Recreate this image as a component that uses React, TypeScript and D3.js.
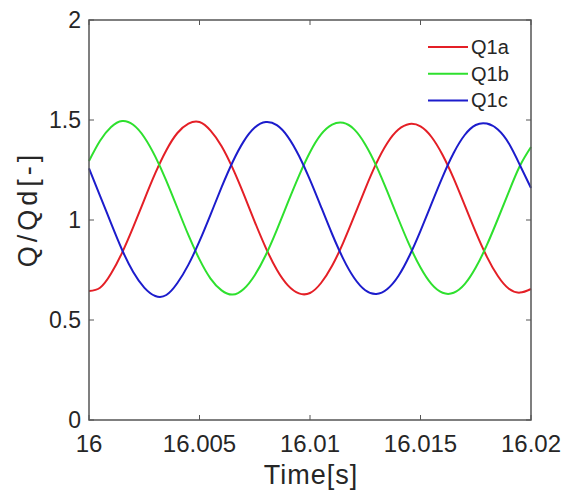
import { useEffect, useRef } from 'react';
import * as d3 from 'd3';

const TIME = d3.range(41).map(i => 16 + i * 0.0005);

const Q1A = [
  0.645, 0.661, 0.732, 0.837, 0.964, 1.101, 1.234, 1.349, 1.435, 1.482,
  1.490, 1.447, 1.369, 1.259, 1.129, 0.991, 0.861, 0.751, 0.673, 0.633,
  0.635, 0.685, 0.771, 0.886, 1.019, 1.156, 1.283, 1.385, 1.452, 1.480,
  1.468, 1.415, 1.325, 1.208, 1.074, 0.939, 0.817, 0.720, 0.656, 0.637,
  0.655,
];
const Q1B = [
  1.295, 1.396, 1.465, 1.495, 1.476, 1.414, 1.317, 1.196, 1.060, 0.924,
  0.803, 0.707, 0.648, 0.627, 0.655, 0.724, 0.825, 0.951, 1.088, 1.221,
  1.339, 1.428, 1.477, 1.486, 1.453, 1.378, 1.271, 1.142, 1.005, 0.874,
  0.762, 0.679, 0.636, 0.636, 0.679, 0.762, 0.874, 1.005, 1.142, 1.271,
  1.365,
];
const Q1C = [
  1.258, 1.121, 0.983, 0.850, 0.740, 0.662, 0.620, 0.625, 0.685, 0.777,
  0.894, 1.027, 1.164, 1.290, 1.393, 1.462, 1.490, 1.474, 1.416, 1.321,
  1.201, 1.066, 0.930, 0.807, 0.710, 0.649, 0.630, 0.655, 0.720, 0.821,
  0.946, 1.082, 1.216, 1.335, 1.425, 1.475, 1.482, 1.452, 1.382, 1.274,
  1.160,
];

const SERIES = [
  { name: 'Q1a', values: Q1A, color: '#e41f26' },
  { name: 'Q1b', values: Q1B, color: '#2ee02e' },
  { name: 'Q1c', values: Q1C, color: '#1c1ccc' },
];

const X_TICKS = [16, 16.005, 16.01, 16.015, 16.02];
const X_TICK_LABELS = ['16', '16.005', '16.01', '16.015', '16.02'];
const Y_TICKS = [0, 0.5, 1, 1.5, 2];
const Y_TICK_LABELS = ['0', '0.5', '1', '1.5', '2'];

const W = 562, H = 490;
const margin = { top: 20, right: 31, bottom: 70, left: 89 };
const FONT = '"Liberation Sans", Arial, sans-serif';
const AXIS = '#555';
const TEXT = '#262626';

export default function App() {
  const svgRef = useRef<SVGSVGElement>(null);

  useEffect(() => {
    if (!svgRef.current) return;
    const svg = d3.select(svgRef.current);
    svg.selectAll('*').remove();

    const innerW = W - margin.left - margin.right;
    const innerH = H - margin.top - margin.bottom;
    const x = d3.scaleLinear().domain([16, 16.02]).range([0, innerW]);
    const y = d3.scaleLinear().domain([0, 2]).range([innerH, 0]);

    const g = svg.append('g').attr('transform', `translate(${margin.left},${margin.top})`);

    // curves
    const line = d3.line<number>()
      .x((_, i) => x(TIME[i]))
      .y(d => y(d))
      .curve(d3.curveNatural);

    SERIES.forEach(s => {
      g.append('path')
        .attr('d', line(s.values))
        .attr('fill', 'none')
        .attr('stroke', s.color)
        .attr('stroke-width', 2);
    });

    // box
    g.append('rect')
      .attr('width', innerW).attr('height', innerH)
      .attr('fill', 'none').attr('stroke', AXIS).attr('stroke-width', 1.5);

    // ticks (inward, mirrored)
    const tl = 5;
    X_TICKS.forEach(t => {
      g.append('line').attr('x1', x(t)).attr('x2', x(t)).attr('y1', innerH).attr('y2', innerH - tl)
        .attr('stroke', AXIS).attr('stroke-width', 1);
      g.append('line').attr('x1', x(t)).attr('x2', x(t)).attr('y1', 0).attr('y2', tl)
        .attr('stroke', AXIS).attr('stroke-width', 1);
    });
    Y_TICKS.forEach(t => {
      g.append('line').attr('x1', 0).attr('x2', tl).attr('y1', y(t)).attr('y2', y(t))
        .attr('stroke', AXIS).attr('stroke-width', 1);
      g.append('line').attr('x1', innerW).attr('x2', innerW - tl).attr('y1', y(t)).attr('y2', y(t))
        .attr('stroke', AXIS).attr('stroke-width', 1);
    });

    // tick labels
    g.selectAll('text.xt').data(X_TICKS).enter().append('text')
      .attr('x', d => x(d)).attr('y', innerH + 32)
      .style('text-anchor', 'middle').style('font-size', '24px').style('font-family', FONT)
      .style('fill', TEXT)
      .text((_, i) => X_TICK_LABELS[i]);

    g.selectAll('text.yt').data(Y_TICKS).enter().append('text')
      .attr('x', -8).attr('y', d => y(d) + 8)
      .style('text-anchor', 'end').style('font-size', '23px').style('font-family', FONT)
      .style('fill', TEXT)
      .text((_, i) => Y_TICK_LABELS[i]);

    // axis labels
    g.append('text').attr('x', innerW / 2 + 1).attr('y', innerH + 64)
      .style('text-anchor', 'middle').style('font-size', '27px').style('font-family', FONT)
      .style('letter-spacing', '1px')
      .style('fill', TEXT).text('Time[s]');

    g.append('text').attr('transform', 'rotate(-90)')
      .attr('x', -189).attr('y', -52)
      .style('text-anchor', 'middle').style('font-size', '27px').style('font-family', FONT)
      .style('letter-spacing', '4px')
      .style('fill', TEXT).text('Q/Qd[-]');

    // legend
    const lg = svg.append('g').attr('transform', 'translate(428,47)');
    SERIES.forEach((s, i) => {
      lg.append('line').attr('x1', 0).attr('x2', 40).attr('y1', i * 26.7).attr('y2', i * 26.7)
        .attr('stroke', s.color).attr('stroke-width', 2);
      lg.append('text').attr('x', 43).attr('y', i * 26.7 + 7)
        .style('font-size', '20px').style('font-family', FONT).style('fill', TEXT)
        .text(s.name);
    });
  }, []);

  return (
    <svg ref={svgRef} width={W} height={H}
      style={{ position: 'absolute', left: 0, top: 0, background: '#fff', display: 'block' }} />
  );
}
